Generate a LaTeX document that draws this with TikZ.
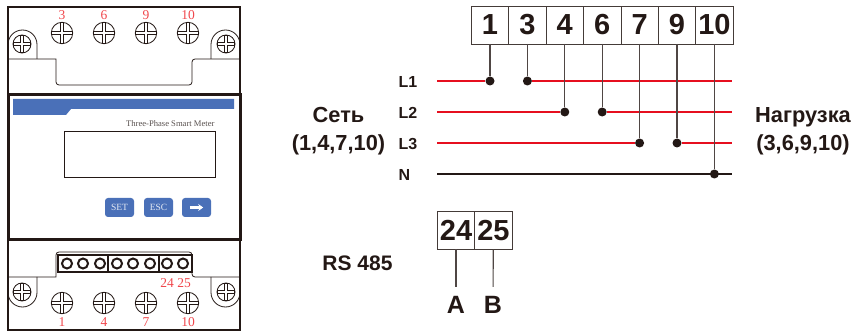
\documentclass[tikz,border=0pt]{standalone}
\usepackage{fontspec}
\setmainfont{Liberation Sans}
\newfontfamily\meterfont{Liberation Serif}
\usetikzlibrary{arrows.meta, positioning}

\definecolor{inkdark}{HTML}{231815}
\definecolor{wirered}{HTML}{E60F1F}
\definecolor{labelred}{HTML}{F0474C}
\definecolor{panelblue}{HTML}{4A70B8}

\begin{document}
\begin{tikzpicture}[x=1pt, y=-1pt]
    % --- Style Definitions ---
    \tikzset{
        % Meter housing
        case style/.style={draw=inkdark, line width=1.6pt},
        panel style/.style={draw=inkdark, line width=3pt},
        detail style/.style={draw=inkdark, line width=0.8pt},
        % Buttons on the panel
        button style/.style={
            fill=panelblue,
            rounded corners=3pt,
            minimum width=29pt,
            minimum height=19pt,
            inner sep=0pt,
            text=white!85!panelblue,
            font=\meterfont\fontsize{9.5}{11}\selectfont
        },
        button arrow/.style={
            -{Stealth[length=5pt, width=7pt]},
            white,
            line width=2.4pt,
            shorten >=8pt,
            shorten <=8pt
        },
        % Terminal boxes
        terminal style/.style={
            draw=inkdark!85,
            line width=0.8pt,
            minimum width=37.4pt,
            minimum height=38pt,
            inner sep=0pt,
            outer sep=0pt,
            text=inkdark,
            font=\bfseries\fontsize{29}{31}\selectfont
        },
        % Wires
        phase wire/.style={draw=wirered, line width=2pt},
        neutral wire/.style={draw=inkdark, line width=2pt},
        tap wire/.style={draw=inkdark!80, line width=1.1pt},
        junction style/.style={circle, fill=inkdark, minimum size=9pt, inner sep=0pt},
        % Text styling
        phase text/.style={text=inkdark, font=\bfseries\fontsize{16}{18}\selectfont},
        side text/.style={text=inkdark, align=center, font=\bfseries\fontsize{21.8}{28}\selectfont},
        bus text/.style={text=inkdark, font=\bfseries\fontsize{25}{27}\selectfont},
        pin text/.style={text=labelred, font=\meterfont\fontsize{13.5}{15}\selectfont},
        % Screw head with a cross slot
        meter screw/.pic={
            \draw[draw=inkdark, line width=0.8pt, fill=white] (0,0) circle (#1);
            \draw[draw=inkdark, line width=3.4pt] (-#1,0) -- (#1,0) (0,-#1) -- (0,#1);
            \draw[draw=white, line width=2pt] (-#1+1,0) -- (#1-1,0) (0,-#1+1) -- (0,#1-1);
        },
        pin hole/.style={circle, draw=inkdark, line width=2pt, minimum size=10pt, inner sep=0pt}
    }

    \useasboundingbox (0,0) rectangle (857,331);

    % ==========================================
    % LEFT: Meter front view
    % ==========================================

    % 1. Housing
    \draw[case style] (8,7) rectangle (240,330);

    % 2. Top cover with mounting ears
    \draw[detail style] (8,59) -- (56,59) [rounded corners=3pt] -- (56,85) -- (192,85) -- (192,59) [sharp corners] -- (240,59);
    \draw[detail style] (8,44) [rounded corners=14.5pt] -- (8,30) -- (37,30) -- (37,59);
    \draw[detail style] (240,44) [rounded corners=14.5pt] -- (240,30) -- (211,30) -- (211,59);

    \pic at (22,44) {meter screw=9};
    \pic at (226,44) {meter screw=9};
    \pic at (62,33) {meter screw=10.7};
    \pic at (104,33) {meter screw=10.7};
    \pic at (146,33) {meter screw=10.7};
    \pic at (188,33) {meter screw=10.7};

    \node[pin text] (pinTop3) at (62,15) {3};
    \node[pin text] (pinTop6) at (104,15) {6};
    \node[pin text] (pinTop9) at (146,15) {9};
    \node[pin text] (pinTop10) at (188,15) {10};

    % 3. Front panel
    \draw[panel style, fill=white] (8,95) rectangle (240,240);
    \fill[panelblue] (13,99) -- (234,99) -- (234,109) -- (71,109) -- (66,115) -- (13,115) -- cycle;
    \node[anchor=east, text=inkdark!75, font=\meterfont\fontsize{8.6}{10}\selectfont] (meterTitle) at (218,124) {Three-Phase Smart Meter};
    \node[draw=inkdark, line width=0.9pt, minimum width=151pt, minimum height=46pt, inner sep=0pt] (meterDisplay) at (139.5,154) {};

    \node[button style] (btnSet) at (119.5,207.5) {SET};
    \node[button style] (btnEsc) at (158.5,207.5) {ESC};
    \node[button style] (btnNext) at (196.5,207.5) {};
    \draw[button arrow] (btnNext.west) -- (btnNext.east);

    % 4. Bottom cover with terminal block
    \draw[detail style] (8,277) -- (56,277) [rounded corners=3pt] -- (56,252) -- (192,252) -- (192,277) [sharp corners] -- (240,277);
    \draw[detail style] (8,292) [rounded corners=14.5pt] -- (8,307) -- (37,307) -- (37,277);
    \draw[detail style] (240,292) [rounded corners=14.5pt] -- (240,307) -- (211,307) -- (211,277);
    \draw[draw=inkdark, line width=1.2pt, fill=white] (58,255) rectangle (192,272);
    \draw[draw=inkdark, line width=1.2pt] (108,255) -- (108,272) (159,255) -- (159,272);

    \node[pin hole] (hole1) at (67,263.5) {};
    \node[pin hole] (hole2) at (83,263.5) {};
    \node[pin hole] (hole3) at (100,263.5) {};
    \node[pin hole] (hole4) at (117,263.5) {};
    \node[pin hole] (hole5) at (133,263.5) {};
    \node[pin hole] (hole6) at (150,263.5) {};
    \node[pin hole] (hole7) at (167,263.5) {};
    \node[pin hole] (hole8) at (183,263.5) {};

    \pic at (22,292) {meter screw=9};
    \pic at (226,292) {meter screw=9};
    \pic at (62,303) {meter screw=10.7};
    \pic at (104,303) {meter screw=10.7};
    \pic at (146,303) {meter screw=10.7};
    \pic at (188,303) {meter screw=10.7};

    \node[pin text] (pinBot24) at (167,283) {24};
    \node[pin text] (pinBot25) at (184,283) {25};
    \node[pin text] (pinBot1) at (62,322) {1};
    \node[pin text] (pinBot4) at (104,322) {4};
    \node[pin text] (pinBot7) at (146,322) {7};
    \node[pin text] (pinBot10) at (188,322) {10};

    % ==========================================
    % RIGHT: Wiring scheme
    % ==========================================

    % 1. Terminal row
    \node[terminal style] (term1) at (490,25) {1};
    \node[terminal style, right=0pt of term1] (term3) {3};
    \node[terminal style, right=0pt of term3] (term4) {4};
    \node[terminal style, right=0pt of term4] (term6) {6};
    \node[terminal style, right=0pt of term6] (term7) {7};
    \node[terminal style, right=0pt of term7] (term9) {9};
    \node[terminal style, right=0pt of term9] (term10) {10};

    % 2. Line labels and wire ends
    \node[phase text, anchor=west] (lblL1) at (395,82) {L1};
    \node[phase text, anchor=west] (lblL2) at (395,113) {L2};
    \node[phase text, anchor=west] (lblL3) at (395,144) {L3};
    \node[phase text, anchor=west] (lblN) at (395,175) {N};

    \coordinate (startL1) at (437,81);
    \coordinate (startL2) at (437,112);
    \coordinate (startL3) at (437,143);
    \coordinate (startN) at (437,174);
    \coordinate (endL1) at (732,81);
    \coordinate (endL2) at (732,112);
    \coordinate (endL3) at (732,143);
    \coordinate (endN) at (732,174);

    % 3. Junctions
    \node[junction style] (dot1) at (term1 |- startL1) {};
    \node[junction style] (dot3) at (term3 |- startL1) {};
    \node[junction style] (dot4) at (term4 |- startL2) {};
    \node[junction style] (dot6) at (term6 |- startL2) {};
    \node[junction style] (dot7) at (term7 |- startL3) {};
    \node[junction style] (dot9) at (term9 |- startL3) {};
    \node[junction style] (dot10) at (term10 |- startN) {};

    % 4. Wires
    \draw[phase wire] (startL1) -- (dot1);
    \draw[phase wire] (dot3) -- (endL1);
    \draw[phase wire] (startL2) -- (dot4);
    \draw[phase wire] (dot6) -- (endL2);
    \draw[phase wire] (startL3) -- (dot7);
    \draw[phase wire] (dot9) -- (endL3);
    \draw[neutral wire] (startN) -- (endN);

    \draw[tap wire] (term1) -- (dot1);
    \draw[tap wire] (term3) -- (dot3);
    \draw[tap wire] (term4) -- (dot4);
    \draw[tap wire] (term6) -- (dot6);
    \draw[tap wire] (term7) -- (dot7);
    \draw[tap wire] (term9) -- (dot9);
    \draw[tap wire] (term10) -- (dot10);

    % 5. Side captions
    \node[side text] (lblGrid) at (338.5,131) {Сеть\\(1,4,7,10)};
    \node[side text] (lblLoad) at (803,131) {Нагрузка\\(3,6,9,10)};

    % ==========================================
    % BOTTOM: RS 485 terminals
    % ==========================================
    \node[terminal style] (term24) at (456,230.5) {24};
    \node[terminal style, right=0pt of term24] (term25) {25};

    \node[bus text] (lblA) at (456,305) {A};
    \node[bus text] (lblB) at (493,305) {B};
    \draw[tap wire, shorten >=6pt] (term24) -- (lblA);
    \draw[tap wire, shorten >=6pt] (term25) -- (lblB);

    \node[text=inkdark, font=\bfseries\fontsize{21}{23}\selectfont] (lblBus) at (357.5,263) {RS 485};

\end{tikzpicture}
\end{document}
